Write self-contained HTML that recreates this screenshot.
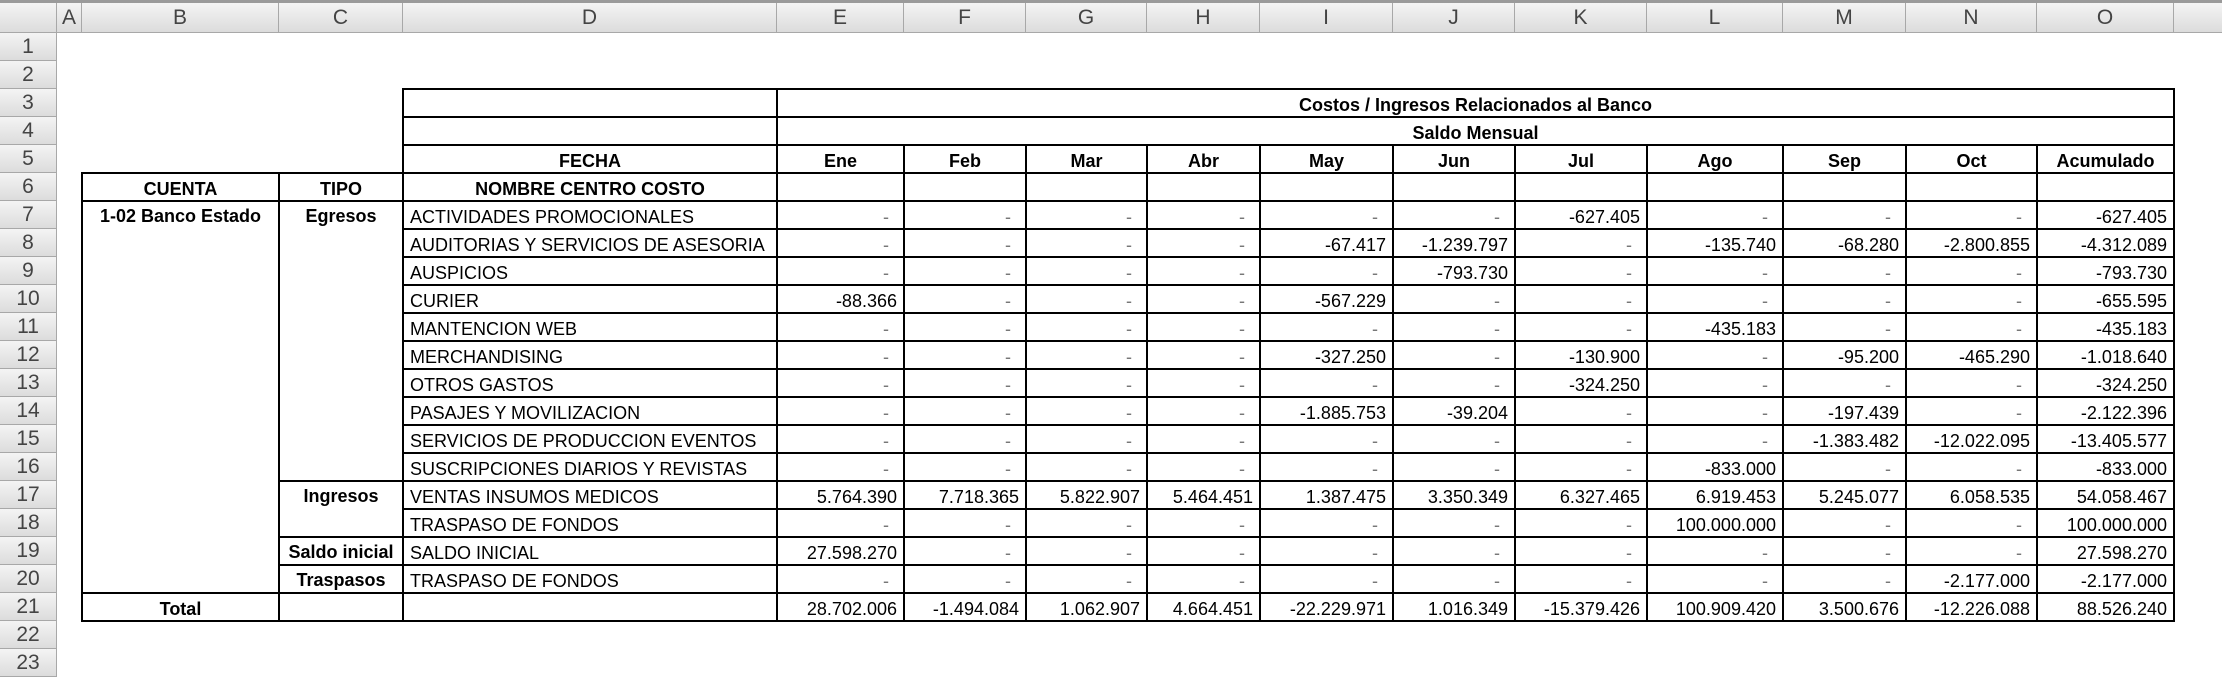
<!DOCTYPE html>
<html><head><meta charset="utf-8">
<style>
body{margin:0;width:2222px;height:662px;overflow:hidden;background:#fff;font-family:"Liberation Sans",sans-serif;position:relative}
.c{position:absolute;box-sizing:border-box;font-size:18px;white-space:nowrap;overflow:hidden;color:#000}
.b{border:2px solid #000}
.hdr{position:absolute;box-sizing:border-box;background:linear-gradient(#f4f4f4,#dcdcdc);border-right:1px solid #a8a8a8;border-bottom:1px solid #a8a8a8;color:#444;font-size:21px;text-align:center}
</style></head><body>
<div style="position:absolute;left:0;top:0;width:2222px;height:3px;background:#9a9a9a"></div>
<div id="sheet"></div>
<script>
const colLetters=['A','B','C','D','E','F','G','H','I','J','K','L','M','N','O','P'];
const months=['Ene','Feb','Mar','Abr','May','Jun','Jul','Ago','Sep','Oct','Acumulado'];
const centros=['ACTIVIDADES PROMOCIONALES','AUDITORIAS Y SERVICIOS DE ASESORIA','AUSPICIOS','CURIER','MANTENCION WEB','MERCHANDISING','OTROS GASTOS','PASAJES Y MOVILIZACION','SERVICIOS DE PRODUCCION EVENTOS','SUSCRIPCIONES DIARIOS Y REVISTAS','VENTAS INSUMOS MEDICOS','TRASPASO DE FONDOS','SALDO INICIAL','TRASPASO DE FONDOS'];
const values=[
['-','-','-','-','-','-','-627.405','-','-','-','-627.405'],
['-','-','-','-','-67.417','-1.239.797','-','-135.740','-68.280','-2.800.855','-4.312.089'],
['-','-','-','-','-','-793.730','-','-','-','-','-793.730'],
['-88.366','-','-','-','-567.229','-','-','-','-','-','-655.595'],
['-','-','-','-','-','-','-','-435.183','-','-','-435.183'],
['-','-','-','-','-327.250','-','-130.900','-','-95.200','-465.290','-1.018.640'],
['-','-','-','-','-','-','-324.250','-','-','-','-324.250'],
['-','-','-','-','-1.885.753','-39.204','-','-','-197.439','-','-2.122.396'],
['-','-','-','-','-','-','-','-','-1.383.482','-12.022.095','-13.405.577'],
['-','-','-','-','-','-','-','-833.000','-','-','-833.000'],
['5.764.390','7.718.365','5.822.907','5.464.451','1.387.475','3.350.349','6.327.465','6.919.453','5.245.077','6.058.535','54.058.467'],
['-','-','-','-','-','-','-','100.000.000','-','-','100.000.000'],
['27.598.270','-','-','-','-','-','-','-','-','-','27.598.270'],
['-','-','-','-','-','-','-','-','-','-2.177.000','-2.177.000']];
const totals=['28.702.006','-1.494.084','1.062.907','4.664.451','-22.229.971','1.016.349','-15.379.426','100.909.420','3.500.676','-12.226.088','88.526.240'];
const tipos=[['Egresos',0,10],['Ingresos',10,2],['Saldo inicial',12,1],['Traspasos',13,1]];

const S=document.getElementById('sheet');
const X=[57,82,279,403,777,904,1026,1147,1260,1393,1515,1647,1783,1906,2037,2174,2310];
const HT=33,RH=28;
function rowY(r){return HT+(r-1)*RH;}
function cell(x1,x2,r1,r2,txt,cls,align,name,extra){
  const d=document.createElement('div');
  d.className='c'+(cls?' '+cls:'');
  d.style.left=(x1-1)+'px';d.style.top=(rowY(r1)-1)+'px';
  d.style.width=(x2-x1+2)+'px';d.style.height=(rowY(r2+1)-rowY(r1)+2)+'px';
  d.style.textAlign=align||'left';
  d.style.padding='0 6px';
  d.style.lineHeight=(rowY(r2+1)-rowY(r1)+2)+'px';
  if(extra)d.style.cssText+=extra;
  d.textContent=txt;
  
  
  S.appendChild(d);return d;
}
const corner=document.createElement('div');corner.className='hdr';
corner.style.cssText+='left:0;top:3px;width:57px;height:30px';


S.appendChild(corner);
for(let i=0;i<16;i++){
  const h=document.createElement('div');h.className='hdr';
  h.style.left=X[i]+'px';h.style.top='3px';h.style.width=(X[i+1]-X[i])+'px';h.style.height='30px';h.style.lineHeight='30px';
  h.textContent=colLetters[i];
  
  
  S.appendChild(h);
}
for(let r=1;r<=23;r++){
  const h=document.createElement('div');h.className='hdr';
  h.style.left='0';h.style.top=rowY(r)+'px';h.style.width='57px';h.style.height=RH+'px';h.style.lineHeight=RH+'px';
  h.textContent=r;
  
  
  S.appendChild(h);
}
const B='font-weight:bold;';
cell(X[3],X[4],3,3,'','b','left','header-blank');
cell(X[4],X[15],3,3,'Costos / Ingresos Relacionados al Banco','b','center','report-title',B);
cell(X[3],X[4],4,4,'','b','left','header-blank');
cell(X[4],X[15],4,4,'Saldo Mensual','b','center','report-subtitle',B);
cell(X[3],X[4],5,5,'FECHA','b','center','fecha-header',B);
months.forEach((m,i)=>cell(X[4+i],X[5+i],5,5,m,'b','center','month-header-'+m.toLowerCase(),B));
cell(X[1],X[2],6,6,'CUENTA','b','center','cuenta-header',B);
cell(X[2],X[3],6,6,'TIPO','b','center','tipo-header',B);
cell(X[3],X[4],6,6,'NOMBRE CENTRO COSTO','b','center','centro-costo-header',B);
months.forEach((m,i)=>cell(X[4+i],X[5+i],6,6,'','b','left','blank-cell'));
cell(X[1],X[2],7,20,'1-02  Banco Estado','b','center','cuenta-banco-estado',B+'line-height:28px;');
tipos.forEach(t=>cell(X[2],X[3],7+t[1],6+t[1]+t[2],t[0],'b','center','tipo-'+t[0].toLowerCase().replace(' ','-'),B+'line-height:28px;'));
centros.forEach((c,r)=>{
  cell(X[3],X[4],7+r,7+r,c,'b','left','centro-'+(r+1));
  values[r].forEach((v,i)=>{
    const d=cell(X[4+i],X[5+i],7+r,7+r,v,'b','right','value-r'+(7+r)+'-'+months[i].toLowerCase());
    if(v==='-'){d.style.color='#777';d.style.paddingRight='14px';}
  });
});
cell(X[1],X[2],21,21,'Total','b','center','total-label',B);
cell(X[2],X[3],21,21,'','b','left','blank-cell');
cell(X[3],X[4],21,21,'','b','left','blank-cell');
totals.forEach((v,i)=>cell(X[4+i],X[5+i],21,21,v,'b','right','total-'+months[i].toLowerCase()));
</script>
</body></html>
